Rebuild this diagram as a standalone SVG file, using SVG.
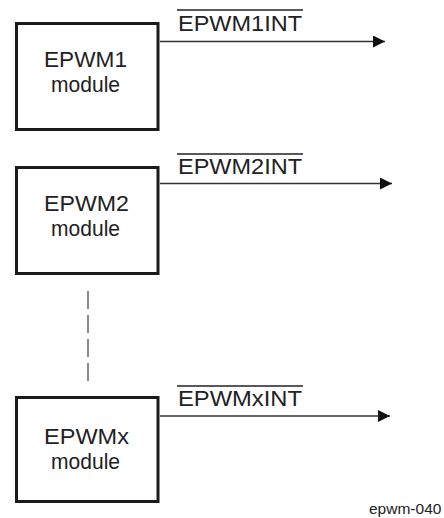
<svg xmlns="http://www.w3.org/2000/svg" width="444" height="518" viewBox="0 0 444 518">
<style>
.box{fill:#fff;stroke:#1a1a1a;stroke-width:3}
.t{font-family:"Liberation Sans",Arial,sans-serif;font-size:22px;fill:#222}
.lbl{font-family:"Liberation Sans",Arial,sans-serif;font-size:22px;fill:#222}
.ov{stroke:#222;stroke-width:1.6}
.wire{stroke:#333;stroke-width:1.3;fill:none}
.dash{stroke:#666;stroke-width:1.5;stroke-dasharray:18 6}
</style>
<defs>
<marker id="ah" viewBox="0 0 12 12" refX="12" refY="6" markerWidth="12" markerHeight="12" markerUnits="userSpaceOnUse" orient="auto">
<path d="M0,0 L12,6 L0,12 Z" fill="#111"/>
</marker>
</defs>
<g id="connectors">
<line class="wire" x1="160" y1="41.5" x2="385" y2="41.5" marker-end="url(#ah)"/>
<line class="wire" x1="160" y1="183.5" x2="392" y2="183.5" marker-end="url(#ah)"/>
<line class="wire" x1="160" y1="416" x2="390" y2="416" marker-end="url(#ah)"/>
<line class="dash" x1="88" y1="291" x2="88" y2="381"/>
</g>
<g id="label1">
<line class="ov" x1="177" y1="10" x2="303" y2="10"/>
<text class="lbl" x="178" y="30.5" textLength="124" lengthAdjust="spacingAndGlyphs">EPWM1INT</text>
</g>
<g id="label2">
<line class="ov" x1="177" y1="154" x2="303" y2="154"/>
<text class="lbl" x="178" y="173.5" textLength="124" lengthAdjust="spacingAndGlyphs">EPWM2INT</text>
</g>
<g id="label3">
<line class="ov" x1="177" y1="386" x2="303" y2="386"/>
<text class="lbl" x="178" y="405.5" textLength="124" lengthAdjust="spacingAndGlyphs">EPWMxINT</text>
</g>
<g id="epwm1">
<rect class="box" x="16.5" y="23.5" width="141.5" height="106"/>
<text class="t" x="44" y="67" textLength="83" lengthAdjust="spacingAndGlyphs">EPWM1</text>
<text class="t" x="51" y="92" textLength="69" lengthAdjust="spacingAndGlyphs">module</text>
</g>
<g id="epwm2">
<rect class="box" x="16.5" y="167.5" width="141.5" height="106"/>
<text class="t" x="44" y="211" textLength="85" lengthAdjust="spacingAndGlyphs">EPWM2</text>
<text class="t" x="51" y="236" textLength="69" lengthAdjust="spacingAndGlyphs">module</text>
</g>
<g id="epwmx">
<rect class="box" x="16.5" y="397.5" width="141.5" height="104"/>
<text class="t" x="44" y="443.5" textLength="85" lengthAdjust="spacingAndGlyphs">EPWMx</text>
<text class="t" x="51" y="468.5" textLength="69" lengthAdjust="spacingAndGlyphs">module</text>
</g>
<text x="369" y="514" font-family="'Liberation Sans',Arial,sans-serif" font-size="15.5" fill="#222">epwm-040</text>
</svg>
